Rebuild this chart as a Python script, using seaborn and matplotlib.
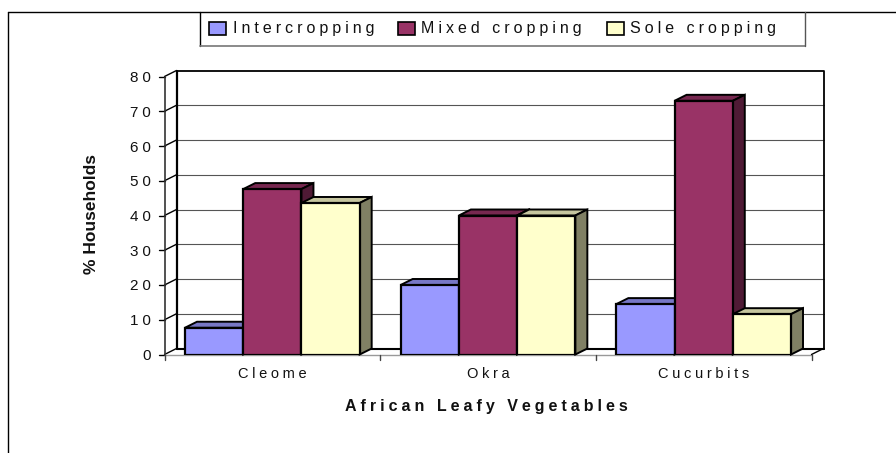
import matplotlib
matplotlib.use("Agg")
import matplotlib.pyplot as plt
from matplotlib.patches import Polygon, Rectangle
from matplotlib.lines import Line2D
import pandas as pd
import seaborn as sns

categories = ["Cleome", "Okra", "Cucurbits"]
series_names = ["Intercropping", "Mixed cropping", "Sole cropping"]
intercropping = [7.7, 20, 14.5]
mixed_cropping = [47.6, 40, 73]
sole_cropping = [43.6, 40, 11.6]
y_ticks = [0, 10, 20, 30, 40, 50, 60, 70, 80]
x_title = "African Leafy Vegetables"
y_title = "% Households"

W, H = 896, 453
FRONT = "#9999FF", "#993366", "#FFFFCC"
TOP = "#7777C6", "#772850", "#C6C69F"
SIDE = "#555590", "#4F1A35", "#808064"
DX, DY = 12, 6  # 3d depth, pixels


def spaced(s, gap="\u2005"):
    # the original has wide letter spacing
    return gap.join(s)


sns.set_theme(style="white")
plt.rcParams["font.family"] = ["Liberation Sans", "DejaVu Sans"]

df = pd.DataFrame({
    "cat": categories * 3,
    "series": [n for n in series_names for _ in categories],
    "val": intercropping + mixed_cropping + sole_cropping,
})

fig = plt.figure(figsize=(W / 100, H / 100), dpi=100)
# front plane of the box
L, R, T, B = 164.5, 811.5, 76.5, 354.5
ax = fig.add_axes([L / W, 1 - B / H, (R - L) / W, (B - T) / H])
ax.patch.set_alpha(0)
ax.set_zorder(2)

sns.barplot(data=df, x="cat", y="val", hue="series", palette=list(FRONT),
            gap=0, width=0.81, saturation=1, edgecolor="black", linewidth=1.6,
            legend=False, ax=ax, zorder=5)
ax.set_xlim(-0.5, 2.5)
ax.set_ylim(0, 80)

ux = (R - L) / 3  # px per category
uy = (B - T) / 80
dx, dy = DX / ux, DY / uy


def px_line(xs, ys, **kw):
    fig.add_artist(Line2D([x / W for x in xs], [1 - y / H for y in ys], **kw))


# back wall, floor, gridlines
for t in y_ticks:
    yp = B - t * uy
    if 0 < t < 80:
        px_line([L + DX, R + DX], [yp - DY, yp - DY], color="#555555", lw=0.8, zorder=1)
    px_line([L, L + DX], [yp, yp - DY], color="black", lw=1, zorder=1)
    px_line([L - 6, L], [yp, yp], color="black", lw=1, zorder=1)
px_line([L, L], [T, B], color="#333333", lw=1.2, zorder=1)
px_line([L + DX, L + DX], [T - DY, B - DY], color="black", lw=1.6, zorder=1)
px_line([L + DX, R + DX, R + DX], [T - DY, T - DY, B - DY], color="black", lw=1.3, zorder=1)
px_line([L + DX, R + DX], [B - DY, B - DY], color="black", lw=1.5, zorder=1)
px_line([L, R], [B, B], color="#999999", lw=1, zorder=1)
px_line([R, R + DX], [B, B - DY], color="black", lw=1, zorder=1)
for i in range(4):
    xp = L + i * (R - L) / 3
    px_line([xp, xp], [B, B + 5], color="#444444", lw=1, zorder=1)

# 3d faces on top of each bar, drawn left to right
bars = sorted(ax.patches, key=lambda p: p.get_x())
for k, bar in enumerate(bars):
    x0, x1, h = bar.get_x(), bar.get_x() + bar.get_width(), bar.get_height()
    s = k % 3
    ax.add_patch(Polygon([(x0, h), (x0 + dx, h + dy), (x1 + dx, h + dy), (x1, h)],
                         fc=TOP[s], ec="black", lw=1.4, zorder=4, clip_on=False))
    ax.add_patch(Polygon([(x1, 0), (x1 + dx, dy), (x1 + dx, h + dy), (x1, h)],
                         fc=SIDE[s], ec="black", lw=1.4, zorder=4, clip_on=False))

ax.set_xticks(range(3), [spaced(c) for c in categories], fontsize=10.5, color="#111111")
ax.set_yticks(y_ticks, [spaced(str(t)) for t in y_ticks], fontsize=11, color="#111111")
ax.tick_params(axis="y", length=0, pad=10)
ax.tick_params(axis="x", length=0, pad=9)
sns.despine(ax=ax, left=True, bottom=True)
ax.set_xlabel("")
ax.set_ylabel("")

fig.text(486 / W, 1 - 406 / H, spaced(x_title), ha="center", va="center",
         fontsize=11.5, fontweight="bold", color="#111111")
fig.text(91 / W, 1 - 214 / H, y_title, ha="center", va="center", rotation=90,
         fontsize=12.5, fontweight="bold", color="#111111")

# chart frame
px_line([8, 8], [453, 12], color="black", lw=1)
px_line([8, 896], [12, 12], color="black", lw=1)

# legend box
px_line([200, 200], [12, 46], color="black", lw=1, zorder=7)
px_line([200, 804.5], [46, 46], color="#777777", lw=1.2, zorder=7)
px_line([804.5, 804.5], [12, 46], color="#555555", lw=1, zorder=7)
slots = [(209, 233), (398, 421), (607, 630)]
for (bx, tx), name, fc in zip(slots, series_names, FRONT):
    fig.add_artist(Rectangle((bx / W, 1 - 34.5 / H), 17 / W, 12 / H, fc=fc, ec="black", lw=1.2, zorder=7))
    fig.text(tx / W, 1 - 28 / H, spaced(name), ha="left", va="center", fontsize=11.5, color="#111111", zorder=7)

fig.savefig("out.png", dpi=100)
